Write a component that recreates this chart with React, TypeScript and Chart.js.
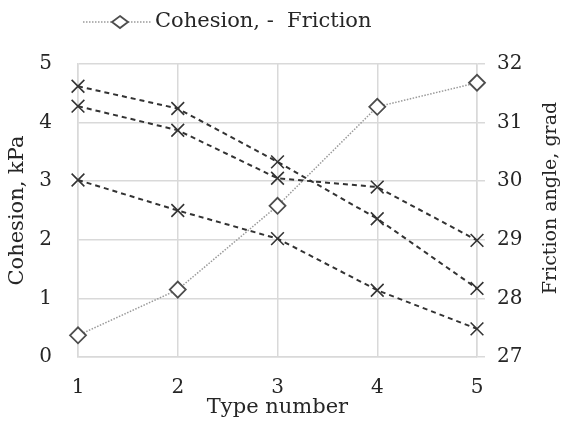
import React, { useEffect, useRef } from "react";
import { Chart, registerables } from "chart.js";

Chart.register(...registerables);

// Soil type numbers along the x axis
const typeNumbers = ["1", "2", "3", "4", "5"];

// Cohesion, kPa (left axis)
const cohesion = [0.37, 1.15, 2.58, 4.27, 4.68];

// Friction angle, grad (right axis), three test series
const frictionA = [31.62, 31.24, 30.33, 29.36, 28.17];
const frictionB = [31.28, 30.87, 30.05, 29.9, 28.99];
const frictionC = [30.02, 29.5, 29.02, 28.14, 27.48];

const legendText = "Cohesion, -  Friction";
const leftTitle = "Cohesion, kPa";
const rightTitle = "Friction angle, grad";
const bottomTitle = "Type number";

const FONT = "'DejaVu Serif', serif";
const TEXT = "#262626";
const GRID = "#d9d9d9";
const DIAMOND_EDGE = "#4d4d4d";
const DOTTED = "#9a9a9a";
const DASHED = "#333333";

// Custom legend: dotted line with a diamond marker, followed by the text
const legendPlugin = {
  id: "lineLegend",
  afterDraw(chart: any) {
    const ctx = chart.ctx;
    const y = 22;
    ctx.save();
    ctx.strokeStyle = DOTTED;
    ctx.lineWidth = 1.5;
    ctx.setLineDash([1.5, 1.5]);
    ctx.beginPath();
    ctx.moveTo(83, y);
    ctx.lineTo(152, y);
    ctx.stroke();
    ctx.setLineDash([]);
    ctx.fillStyle = "#ffffff";
    ctx.strokeStyle = DIAMOND_EDGE;
    ctx.lineWidth = 1.8;
    ctx.beginPath();
    ctx.moveTo(120, y - 6);
    ctx.lineTo(128, y);
    ctx.lineTo(120, y + 6);
    ctx.lineTo(112, y);
    ctx.closePath();
    ctx.fill();
    ctx.stroke();
    ctx.fillStyle = TEXT;
    ctx.font = `21px ${FONT}`;
    ctx.textBaseline = "middle";
    ctx.textAlign = "left";
    ctx.fillText(legendText, 155, y);
    ctx.restore();
  },
};

// Right axis title, read bottom-to-top like the left one
const rightTitlePlugin = {
  id: "rightTitle",
  afterDraw(chart: any) {
    const ctx = chart.ctx;
    ctx.save();
    ctx.translate(551, 198);
    ctx.rotate(-Math.PI / 2);
    ctx.fillStyle = TEXT;
    ctx.font = `19px ${FONT}`;
    ctx.textAlign = "center";
    ctx.textBaseline = "middle";
    ctx.fillText(rightTitle, 0, 0);
    ctx.restore();
  },
};

function frictionSet(data: number[]) {
  return {
    label: "Friction",
    data,
    yAxisID: "yR",
    borderColor: DASHED,
    borderWidth: 2,
    borderDash: [5, 4],
    pointStyle: "crossRot" as const,
    pointRadius: 9,
    pointBorderColor: DASHED,
    pointBorderWidth: 1.6,
    fill: false,
    tension: 0,
  };
}

export default function App() {
  const canvasRef = useRef<HTMLCanvasElement | null>(null);

  useEffect(() => {
    const canvas = canvasRef.current;
    if (!canvas) return;
    const chart = new Chart(canvas, {
      type: "line",
      data: {
        labels: typeNumbers,
        datasets: [
          frictionSet(frictionA),
          frictionSet(frictionB),
          frictionSet(frictionC),
          {
            label: legendText,
            data: cohesion,
            yAxisID: "yL",
            borderColor: DOTTED,
            borderWidth: 1.5,
            borderDash: [1.5, 1.5],
            pointStyle: "rectRot",
            pointRadius: 8,
            pointBackgroundColor: "#ffffff",
            pointBorderColor: DIAMOND_EDGE,
            pointBorderWidth: 1.8,
            fill: false,
            tension: 0,
          },
        ],
      },
      options: {
        animation: false,
        responsive: false,
        maintainAspectRatio: false,
        layout: { padding: { top: 64, left: 0, right: 0, bottom: 0 } },
        plugins: {
          legend: { display: false },
          tooltip: { enabled: false },
          title: { display: false },
        },
        scales: {
          x: {
            type: "category",
            offset: false,
            grid: {
              color: GRID,
              lineWidth: 1.5,
              drawTicks: false,
              offset: false,
            },
            border: { color: GRID, width: 1.5 },
            ticks: {
              color: TEXT,
              font: { family: FONT, size: 20 },
              padding: 19,
              maxRotation: 0,
            },
            title: {
              display: true,
              text: bottomTitle,
              color: TEXT,
              font: { family: FONT, size: 21 },
              padding: { top: 0, bottom: 3 },
            },
            afterFit(scale: any) {
              scale.height = 66;
            },
          },
          yL: {
            type: "linear",
            position: "left",
            min: 0,
            max: 5,
            ticks: {
              stepSize: 1,
              color: TEXT,
              font: { family: FONT, size: 20 },
              padding: 26,
            },
            grid: { color: GRID, lineWidth: 1.5, drawTicks: false },
            border: { color: GRID, width: 1.5 },
            title: {
              display: true,
              text: leftTitle,
              color: TEXT,
              font: { family: FONT, size: 21 },
              padding: { top: 5, bottom: 0 },
            },
            afterFit(scale: any) {
              scale.width = 78;
            },
          },
          yR: {
            type: "linear",
            position: "right",
            min: 27,
            max: 32,
            ticks: {
              stepSize: 1,
              color: TEXT,
              font: { family: FONT, size: 20 },
              padding: 12,
            },
            grid: {
              color: GRID,
              lineWidth: 1.5,
              drawOnChartArea: false,
              drawTicks: true,
              tickLength: 8,
            },
            border: { color: GRID, width: 1.5 },
            afterFit(scale: any) {
              scale.width = 84;
            },
          },
        },
      },
      plugins: [legendPlugin, rightTitlePlugin],
    });
    return () => chart.destroy();
  }, []);

  return (
    <div
      style={{
        position: "fixed",
        left: 0,
        top: 0,
        width: 561,
        height: 423,
        background: "#ffffff",
      }}
    >
      <canvas ref={canvasRef} width={561} height={423} style={{ display: "block" }} />
    </div>
  );
}
